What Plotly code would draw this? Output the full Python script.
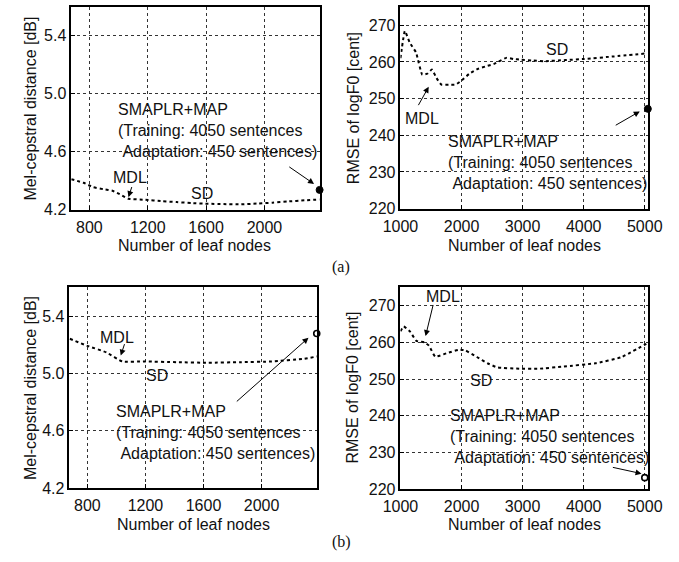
import plotly.graph_objects as go

W, H = 679, 562

# ---------------- data ----------------
# (a) left: Mel-cepstral distance vs leaf nodes
a_mcd_x = [676, 760, 826, 900, 958, 1020, 1068, 1178, 1300, 1397, 1500, 1616, 1720, 1836, 1950, 2055, 2160, 2274, 2378]
a_mcd_y = [4.41, 4.385, 4.355, 4.34, 4.33, 4.30, 4.275, 4.268, 4.258, 4.252, 4.245, 4.24, 4.238, 4.236, 4.242, 4.248, 4.256, 4.264, 4.27]
a_mcd_pt = (2378, 4.336)

# (a) right: RMSE of logF0
a_f0_x = [1000, 1073, 1150, 1254, 1358, 1440, 1514, 1590, 1670, 1790, 1903, 2007, 2130, 2267, 2400, 2526, 2630, 2734, 2850, 2968, 3150, 3357, 3700, 4006, 4500, 5019]
a_f0_y = [261.0, 268.4, 265.3, 262.6, 256.5, 256.8, 257.9, 255.6, 253.8, 253.8, 253.8, 255.0, 256.8, 258.1, 258.8, 259.4, 260.3, 261.1, 260.8, 260.6, 260.4, 260.2, 260.5, 260.8, 261.5, 262.3]
a_f0_pt = (5050, 247.2)

# (b) left
b_mcd_x = [679, 800, 931, 1041, 1195, 1414, 1633, 1852, 2071, 2290, 2389]
b_mcd_y = [5.241, 5.192, 5.146, 5.083, 5.083, 5.078, 5.074, 5.078, 5.083, 5.101, 5.119]
b_mcd_pt = (2380, 5.278)

# (b) right
b_f0_x = [1000, 1052, 1155, 1259, 1389, 1466, 1570, 1751, 1959, 2062, 2250, 2425, 2581, 2945, 3257, 3673, 4193, 4609, 5025]
b_f0_y = [263.0, 264.3, 263.0, 260.4, 260.0, 259.1, 256.1, 257.0, 258.0, 257.8, 256.0, 254.3, 253.2, 252.8, 252.8, 253.4, 254.3, 255.9, 259.6]
b_f0_pt = (5000, 223.1)

mcd_ticks = [4.2, 4.6, 5.0, 5.4]
mcd_xticks = [800, 1200, 1600, 2000]
f0_ticks = [220, 230, 240, 250, 260, 270]
f0_xticks = [1000, 2000, 3000, 4000, 5000]

smap_text = "SMAPLR+MAP<br>(Training: 4050 sentences<br>\u00a0Adaptation: 450 sentences)"
xlabel = "Number of leaf nodes"
mcd_label = "Mel-cepstral distance [dB]"
f0_label = "RMSE of logF0 [cent]"

# ---------------- layout geometry (pixels) ----------------
panels = {
    1: dict(x0=56, x1=317, y0=7, y1=213),
    2: dict(x0=402, x1=662, y0=7, y1=212),
    3: dict(x0=54, x1=314, y0=292, y1=496),
    4: dict(x0=402, x1=662, y0=292, y1=497),
}

def dom(p):
    return [p["x0"] / W, p["x1"] / W], [1 - p["y1"] / H, 1 - p["y0"] / H]

FONT = "Liberation Sans, Arial, sans-serif"
fig = go.Figure()

series = [
    (1, a_mcd_x, a_mcd_y, a_mcd_pt, True),
    (2, a_f0_x, a_f0_y, a_f0_pt, True),
    (3, b_mcd_x, b_mcd_y, b_mcd_pt, False),
    (4, b_f0_x, b_f0_y, b_f0_pt, False),
]
for i, xs, ys, pt, filled in series:
    sfx = "" if i == 1 else str(i)
    fig.add_trace(go.Scatter(x=xs, y=ys, mode="lines", xaxis="x" + sfx, yaxis="y" + sfx,
                             line=dict(color="black", width=2, dash="dot", shape="spline", smoothing=0.4),
                             showlegend=False))
    fig.add_trace(go.Scatter(x=[pt[0]], y=[pt[1]], mode="markers", xaxis="x" + sfx, yaxis="y" + sfx,
                             marker=dict(size=7 if filled else 6,
                                         color="black" if filled else "white",
                                         line=dict(color="black", width=1 if filled else 1.6)),
                             cliponaxis=False, showlegend=False))

axcommon = dict(showline=True, mirror=True, linecolor="black", linewidth=1.5,
                showgrid=True, gridcolor="#333", griddash="dot", gridwidth=1,
                ticks="inside", ticklen=4, tickcolor="black", zeroline=False,
                tickfont=dict(family=FONT, size=16, color="#111"))

layout = dict(width=W, height=H, margin=dict(l=0, r=0, t=0, b=0),
              paper_bgcolor="white", plot_bgcolor="white", showlegend=False)

ranges = {
    1: ([676, 2378], [4.2, 5.6], mcd_xticks, mcd_ticks, "%.1f", 2),
    2: ([1000, 5050], [220, 275], f0_xticks, f0_ticks, None, 2),
    3: ([676, 2380], [4.2, 5.6], mcd_xticks, mcd_ticks, "%.1f", 2),
    4: ([1000, 5050], [220, 275], f0_xticks, f0_ticks, None, 2),
}
for i, (xr, yr, xt, yt, yfmt, so) in ranges.items():
    sfx = "" if i == 1 else str(i)
    xd, yd = dom(panels[i])
    layout["xaxis" + sfx] = dict(axcommon, domain=xd, range=xr, tickvals=xt,
                                 anchor="y" + sfx, ticklabelstandoff=so)
    layout["yaxis" + sfx] = dict(axcommon, domain=yd, range=yr, tickvals=yt,
                                 ticktext=[("%.1f" % v) if yfmt else str(v) for v in yt],
                                 anchor="x" + sfx)
fig.update_layout(**layout)

ann = []
def txt(text, x, y, ref, xanchor="center", yanchor="middle", align="left"):
    ann.append(dict(text=text, x=x, y=y, xref="x" + ref, yref="y" + ref, showarrow=False,
                    xanchor=xanchor, yanchor=yanchor, align=align,
                    font=dict(family=FONT, size=16, color="#111")))

def arrow(x0, y0, x1, y1, ref):
    ann.append(dict(text="", x=x1, y=y1, ax=x0, ay=y0, xref="x" + ref, yref="y" + ref,
                    axref="x" + ref, ayref="y" + ref, showarrow=True,
                    arrowhead=2, arrowsize=1.2, arrowwidth=1, arrowcolor="black"))

# (a) left
txt("MDL", 1079, 4.42, "")
arrow(1094, 4.366, 1068, 4.286, "")
txt("SD", 1572, 4.309, "")
txt(smap_text, 980, 4.745, "", xanchor="left")
arrow(2160, 4.502, 2340, 4.377, "")
# (a) right
txt("MDL", 1358, 244.7, "2")
arrow(1280, 247.8, 1462, 253.2, "2")
txt("SD", 3565, 263.5, "2")
txt(smap_text, 1748, 232.6, "2", xanchor="left")
arrow(4500, 242.5, 4918, 246.5, "2")
# (b) left
txt("MDL", 1002, 5.253, "3")
arrow(1059, 5.214, 1030, 5.124, "3")
txt("SD", 1282, 4.988, "3")
txt(smap_text, 986, 4.59, "3", xanchor="left")
arrow(1819, 4.795, 2323, 5.248, "3")
# (b) right
txt("MDL", 1697, 272.4, "4")
arrow(1541, 270.6, 1411, 261.7, "4")
txt("SD", 2321, 249.6, "4")
txt(smap_text, 1775, 234.3, "4", xanchor="left")
arrow(4453, 226.0, 4947, 224.2, "4")

# axis titles (paper coords)
def ptxt(text, px, py, angle=0, family=FONT):
    ann.append(dict(text=text, x=px / W, y=1 - py / H, xref="paper", yref="paper",
                    showarrow=False, xanchor="center", yanchor="middle", textangle=angle,
                    font=dict(family=family, size=16, color="#111")))

ptxt(xlabel, 186, 249)
ptxt(xlabel, 532, 249)
ptxt(xlabel, 184, 533)
ptxt(xlabel, 532, 533)
ptxt(mcd_label, 13, 110, -90)
ptxt(f0_label, 352, 110, -90)
ptxt(mcd_label, 13, 394, -90)
ptxt(f0_label, 352, 394, -90)
ptxt("(a)", 340, 271, family="Liberation Serif, Times New Roman, serif")
ptxt("(b)", 340, 551, family="Liberation Serif, Times New Roman, serif")

fig.update_layout(annotations=ann)
fig.write_html("out.html")
